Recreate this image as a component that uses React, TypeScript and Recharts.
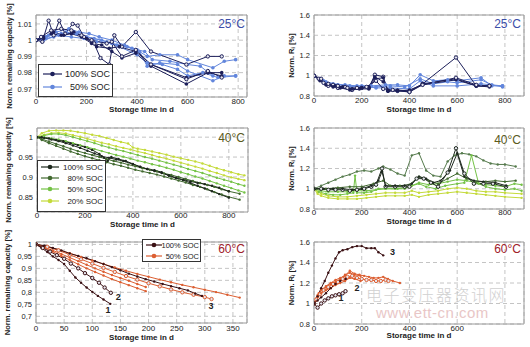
import React from "react";
import { LineChart, Line, XAxis, YAxis, CartesianGrid, ReferenceArea, ReferenceDot, Label } from "recharts";

type Pt = [number, number];

// ---- 25°C capacity ----
const cap25_100a: Pt[] = [[0, 1], [25, 0.999], [50, 1.012], [70, 1.003], [92, 1.012], [115, 1.004], [145, 1.01], [165, 1.009], [190, 1.002], [230, 0.998], [255, 0.989], [290, 0.985], [310, 1.003], [340, 0.996], [395, 1.005], [455, 0.993], [595, 0.985], [680, 0.99], [735, 0.99]];
const cap25_100b: Pt[] = [[0, 1], [30, 1.002], [60, 1.004], [100, 1.003], [140, 1.004], [180, 1.002], [220, 0.998], [260, 0.997], [300, 0.993], [340, 0.989], [395, 0.992], [455, 0.984], [595, 0.973], [680, 0.98], [735, 0.98]];
const cap25_100c: Pt[] = [[0, 1], [30, 1.001], [70, 1.005], [110, 1.003], [150, 1.005], [200, 1.001], [240, 0.996], [290, 0.995], [330, 0.996], [395, 0.993], [455, 0.985], [595, 0.977], [680, 0.98], [735, 0.978]];
const cap25_100d: Pt[] = [[0, 1], [20, 1.002], [60, 1.006], [100, 1.007], [140, 1.006], [180, 1.003], [220, 1.0], [280, 0.998], [300, 0.999], [340, 0.99], [395, 0.994], [455, 0.985], [595, 0.976], [680, 0.981], [735, 0.977]];
const cap25_50a: Pt[] = [[0, 1], [40, 1.002], [80, 1.005], [130, 1.007], [170, 1.005], [210, 1.004], [250, 1.002], [300, 1.0], [350, 0.997], [400, 0.994], [440, 0.99], [490, 0.991], [560, 0.991], [600, 0.988], [700, 0.983], [745, 0.987], [790, 0.988]];
const cap25_50b: Pt[] = [[0, 1], [40, 1.001], [90, 1.003], [140, 1.002], [190, 1.001], [240, 0.999], [300, 0.998], [360, 0.996], [410, 0.993], [440, 0.984], [490, 0.986], [560, 0.985], [600, 0.981], [700, 0.975], [745, 0.978], [790, 0.978]];
const cap25_50c: Pt[] = [[0, 1], [50, 1.003], [100, 1.004], [160, 1.004], [200, 1.002], [260, 1.0], [320, 0.997], [380, 0.995], [430, 0.993], [460, 0.988], [530, 0.987], [600, 0.985], [650, 0.984], [700, 0.978]];
const cap25_50d: Pt[] = [[0, 1], [30, 1.0], [70, 1.002], [120, 1.005], [180, 1.003], [230, 1.001], [280, 0.999], [330, 0.996], [400, 0.991], [440, 0.986], [500, 0.985], [560, 0.982], [600, 0.978], [660, 0.98], [720, 0.977], [790, 0.978]];

// ---- 25°C resistance ----
const ri25_100a: Pt[] = [[0, 1.0], [20, 0.97], [40, 0.93], [60, 0.9], [80, 0.91], [100, 0.88], [130, 0.89], [160, 0.86], [200, 0.88], [230, 0.88], [255, 1.01], [290, 0.99], [310, 0.85], [350, 0.85], [400, 0.84], [455, 0.92], [595, 1.18], [680, 0.9], [735, 0.9]];
const ri25_100b: Pt[] = [[0, 1.0], [30, 0.96], [60, 0.92], [90, 0.9], [120, 0.89], [160, 0.87], [200, 0.88], [230, 0.89], [255, 0.99], [290, 0.94], [310, 0.86], [350, 0.86], [400, 0.85], [455, 0.92], [595, 0.97], [680, 0.9], [735, 0.9]];
const ri25_100c: Pt[] = [[0, 1.0], [25, 0.95], [50, 0.91], [80, 0.89], [110, 0.88], [150, 0.86], [190, 0.87], [230, 0.87], [255, 0.97], [290, 0.98], [310, 0.85], [350, 0.85], [400, 0.86], [455, 0.91], [595, 0.96], [680, 0.9], [735, 0.89]];
const ri25_100d: Pt[] = [[0, 1.0], [30, 0.97], [60, 0.92], [100, 0.9], [140, 0.88], [180, 0.88], [220, 0.89], [260, 0.95], [290, 0.87], [330, 0.86], [400, 0.84], [455, 0.91], [595, 0.98], [680, 0.91], [735, 0.9]];
const ri25_50a: Pt[] = [[0, 1], [40, 0.95], [80, 0.92], [130, 0.91], [180, 0.9], [240, 0.9], [300, 0.91], [350, 0.91], [400, 0.9], [445, 1.01], [500, 0.95], [560, 0.96], [600, 0.95], [700, 0.98], [745, 0.9], [790, 0.9]];
const ri25_50b: Pt[] = [[0, 1], [50, 0.94], [100, 0.91], [150, 0.9], [200, 0.89], [260, 0.89], [320, 0.9], [380, 0.89], [445, 0.97], [500, 0.92], [560, 0.94], [600, 0.93], [700, 0.96], [745, 0.91], [790, 0.89]];
const ri25_50c: Pt[] = [[0, 1], [40, 0.93], [90, 0.9], [140, 0.89], [200, 0.9], [260, 0.88], [320, 0.88], [400, 0.87], [445, 0.95], [500, 0.9], [600, 0.9], [700, 0.92], [790, 0.9]];

// ---- 40°C capacity ----
const cap40_100a: Pt[] = [[0, 1], [20, 1.0], [50, 0.997], [80, 0.993], [110, 0.99], [140, 0.985], [170, 0.98], [200, 0.975], [230, 0.968], [260, 0.958], [280, 0.948], [295, 0.94], [310, 0.95], [340, 0.945], [370, 0.94], [400, 0.933], [430, 0.925], [460, 0.92], [490, 0.917], [520, 0.912], [550, 0.903], [580, 0.897], [610, 0.893], [640, 0.889], [670, 0.885], [700, 0.882], [730, 0.878], [760, 0.873], [800, 0.864]];
const cap40_100b: Pt[] = [[0, 1], [30, 0.998], [60, 0.994], [90, 0.99], [120, 0.985], [150, 0.979], [180, 0.973], [210, 0.966], [240, 0.959], [270, 0.952], [300, 0.948], [330, 0.944], [360, 0.94], [400, 0.932], [430, 0.926], [460, 0.92], [490, 0.915], [520, 0.91], [550, 0.904], [580, 0.898], [610, 0.892], [640, 0.885], [670, 0.878], [700, 0.871], [730, 0.864], [760, 0.857], [800, 0.848]];
const cap40_80a: Pt[] = [[0, 1], [20, 0.993], [50, 0.985], [80, 0.978], [110, 0.971], [140, 0.964], [170, 0.958], [200, 0.952], [230, 0.947], [260, 0.942], [290, 0.937], [320, 0.932], [350, 0.928], [380, 0.923], [410, 0.918], [440, 0.914], [470, 0.91], [500, 0.906], [530, 0.901], [560, 0.896], [590, 0.891], [620, 0.886], [650, 0.88], [680, 0.875], [710, 0.869], [740, 0.862], [770, 0.856], [800, 0.85], [845, 0.843]];
const cap40_80b: Pt[] = [[0, 1], [20, 0.995], [50, 0.989], [80, 0.983], [110, 0.977], [140, 0.971], [170, 0.965], [200, 0.96], [230, 0.955], [260, 0.95], [290, 0.945], [320, 0.94], [350, 0.936], [380, 0.931], [410, 0.927], [440, 0.922], [470, 0.918], [500, 0.914], [530, 0.909], [560, 0.905], [590, 0.9], [620, 0.895], [650, 0.89], [680, 0.885], [710, 0.88], [740, 0.875], [770, 0.869], [800, 0.864], [845, 0.858]];
const cap40_50a: Pt[] = [[0, 1], [30, 1.004], [60, 1.008], [90, 1.008], [120, 1.005], [150, 1.0], [180, 0.995], [210, 0.99], [240, 0.985], [270, 0.979], [300, 0.974], [330, 0.969], [360, 0.965], [390, 0.96], [420, 0.955], [450, 0.95], [480, 0.946], [510, 0.941], [540, 0.936], [570, 0.931], [600, 0.926], [630, 0.92], [660, 0.915], [690, 0.91], [720, 0.904], [750, 0.898], [780, 0.893], [810, 0.888], [840, 0.882], [865, 0.878]];
const cap40_50b: Pt[] = [[0, 1], [30, 0.999], [60, 0.997], [90, 0.994], [120, 0.99], [150, 0.985], [180, 0.98], [210, 0.975], [240, 0.97], [270, 0.965], [300, 0.96], [330, 0.955], [360, 0.951], [390, 0.946], [420, 0.941], [450, 0.937], [480, 0.932], [510, 0.928], [540, 0.923], [570, 0.918], [600, 0.912], [630, 0.907], [660, 0.901], [690, 0.896], [720, 0.89], [750, 0.884], [780, 0.878], [810, 0.872], [840, 0.866], [865, 0.861]];
const cap40_20a: Pt[] = [[0, 1.0], [20, 1.01], [50, 1.016], [80, 1.017], [110, 1.017], [140, 1.016], [170, 1.013], [200, 1.01], [230, 1.006], [260, 1.003], [290, 0.998], [320, 0.993], [350, 0.988], [380, 0.984], [400, 0.974], [420, 0.971], [450, 0.968], [480, 0.964], [510, 0.96], [540, 0.956], [570, 0.951], [600, 0.947], [630, 0.943], [660, 0.939], [690, 0.934], [720, 0.928], [750, 0.922], [780, 0.917], [810, 0.912], [840, 0.907], [865, 0.904]];
const cap40_20b: Pt[] = [[0, 1], [30, 1.006], [60, 1.01], [90, 1.011], [120, 1.009], [150, 1.005], [180, 1.001], [210, 0.996], [240, 0.991], [270, 0.986], [300, 0.982], [330, 0.977], [360, 0.973], [390, 0.969], [420, 0.964], [450, 0.96], [480, 0.955], [510, 0.95], [540, 0.946], [570, 0.941], [600, 0.936], [630, 0.931], [660, 0.926], [690, 0.921], [720, 0.915], [750, 0.91], [780, 0.904], [810, 0.899], [840, 0.895], [865, 0.892]];

// ---- 40°C resistance ----
const ri40_100a: Pt[] = [[0, 1], [30, 1.0], [60, 0.99], [90, 0.99], [120, 0.99], [150, 0.98], [180, 0.99], [210, 1.0], [240, 1.02], [260, 1.04], [285, 1.2], [300, 1.02], [340, 1.02], [380, 1.02], [400, 1.02], [430, 1.1], [460, 1.1], [490, 1.06], [520, 1.02], [560, 1.16], [595, 1.4], [630, 1.15], [670, 1.05], [710, 1.05], [750, 1.05], [805, 1.02]];
const ri40_100b: Pt[] = [[0, 1], [40, 1.0], [80, 1.0], [120, 1.0], [160, 0.99], [200, 1.0], [240, 1.03], [270, 1.08], [285, 1.17], [300, 1.03], [340, 1.03], [380, 1.03], [410, 1.05], [440, 1.12], [470, 1.1], [500, 1.06], [530, 1.08], [570, 1.18], [600, 1.35], [630, 1.12], [670, 1.08], [710, 1.07], [760, 1.06], [805, 1.03]];
const ri40_80a: Pt[] = [[0, 1], [30, 1.03], [60, 1.06], [90, 1.09], [120, 1.12], [150, 1.14], [180, 1.17], [210, 1.18], [240, 1.17], [270, 1.2], [290, 1.22], [320, 1.19], [350, 1.15], [380, 1.13], [410, 1.33], [440, 1.35], [470, 1.18], [500, 1.13], [530, 1.12], [560, 1.27], [590, 1.33], [620, 1.35], [650, 1.34], [680, 1.32], [710, 1.28], [740, 1.25], [770, 1.24], [800, 1.24], [845, 1.22]];
const ri40_80b: Pt[] = [[0, 1], [50, 1.0], [100, 1.01], [150, 1.02], [200, 1.02], [250, 1.05], [290, 1.08], [320, 1.03], [360, 1.03], [400, 1.04], [440, 1.12], [480, 1.08], [520, 1.05], [560, 1.1], [600, 1.15], [640, 1.1], [680, 1.07], [720, 1.07], [760, 1.08], [800, 1.07], [845, 1.08]];
const ri40_50a: Pt[] = [[0, 1], [20, 0.97], [50, 0.95], [80, 0.94], [110, 0.94], [140, 0.95], [165, 0.96], [172, 1.13], [180, 0.96], [210, 0.96], [240, 0.97], [270, 1.0], [300, 1.0], [340, 1.0], [380, 1.0], [410, 1.03], [440, 1.05], [470, 1.02], [510, 1.0], [550, 1.03], [600, 1.05], [630, 1.06], [660, 1.33], [690, 1.05], [720, 1.02], [760, 1.0], [800, 0.99], [840, 1.0], [870, 0.98]];
const ri40_50b: Pt[] = [[0, 1], [30, 0.98], [60, 0.97], [100, 0.97], [140, 0.97], [180, 0.98], [220, 0.98], [260, 0.99], [300, 1.0], [350, 1.0], [400, 1.02], [440, 1.06], [480, 1.04], [520, 1.05], [560, 1.07], [600, 1.09], [640, 1.08], [680, 1.06], [720, 1.04], [760, 1.03], [800, 1.02], [840, 1.05], [870, 1.04]];
const ri40_20a: Pt[] = [[0, 1], [15, 0.95], [30, 0.93], [60, 0.91], [100, 0.9], [140, 0.9], [180, 0.9], [220, 0.91], [260, 0.92], [300, 0.93], [340, 0.93], [380, 0.93], [410, 0.94], [440, 0.92], [480, 0.94], [520, 0.95], [560, 0.96], [600, 0.97], [640, 0.96], [680, 0.95], [720, 0.94], [760, 0.93], [800, 0.92], [870, 0.91]];
const ri40_20b: Pt[] = [[0, 1], [15, 0.97], [30, 0.95], [60, 0.93], [100, 0.92], [140, 0.92], [180, 0.93], [220, 0.94], [260, 0.95], [300, 0.96], [340, 0.96], [380, 0.96], [410, 0.98], [440, 0.96], [480, 0.97], [520, 0.98], [560, 1.0], [600, 1.01], [640, 1.0], [680, 0.98], [720, 0.97], [760, 0.97], [800, 0.96], [870, 0.95]];

// ---- 60°C capacity ----
const cap60_100_1: Pt[] = [[0, 1], [10, 0.985], [20, 0.968], [30, 0.95], [40, 0.935], [50, 0.918], [60, 0.89], [70, 0.862], [80, 0.84], [90, 0.82], [100, 0.802], [110, 0.785], [120, 0.77], [132, 0.752]];
const cap60_100_2: Pt[] = [[0, 1], [12, 0.985], [25, 0.97], [37, 0.955], [50, 0.94], [62, 0.92], [75, 0.9], [87, 0.88], [100, 0.86], [112, 0.84], [122, 0.82], [133, 0.798]];
const cap60_100_3: Pt[] = [[0, 1], [15, 0.995], [30, 0.985], [45, 0.975], [60, 0.962], [75, 0.952], [90, 0.942], [105, 0.93], [120, 0.918], [135, 0.905], [150, 0.892], [165, 0.878], [180, 0.866], [195, 0.855], [210, 0.845], [225, 0.835], [240, 0.826], [255, 0.817], [270, 0.808], [283, 0.795], [295, 0.785]];
const cap60_50a: Pt[] = [[0, 1], [20, 0.99], [40, 0.978], [60, 0.963], [80, 0.948], [100, 0.933], [120, 0.918], [140, 0.904], [160, 0.89], [180, 0.877], [200, 0.865], [220, 0.853], [240, 0.842], [260, 0.831], [280, 0.821], [300, 0.811], [320, 0.801], [340, 0.79], [362, 0.778]];
const cap60_50b: Pt[] = [[0, 1], [20, 0.99], [40, 0.975], [60, 0.957], [80, 0.938], [100, 0.92], [120, 0.902], [140, 0.885], [160, 0.868], [180, 0.853], [200, 0.838], [220, 0.825], [240, 0.812], [260, 0.8], [280, 0.79], [300, 0.78], [312, 0.772]];
const cap60_50c: Pt[] = [[0, 1], [15, 0.985], [30, 0.97], [45, 0.952], [60, 0.935], [75, 0.917], [90, 0.9], [105, 0.885], [120, 0.87], [135, 0.855], [150, 0.842], [165, 0.83], [180, 0.817], [195, 0.805]];
const cap60_50d: Pt[] = [[0, 1], [15, 0.988], [30, 0.975], [45, 0.96], [60, 0.945], [75, 0.93], [90, 0.915], [105, 0.9], [120, 0.886], [135, 0.872], [150, 0.86], [165, 0.848], [180, 0.835], [195, 0.822]];

// ---- 60°C resistance ----
const ri60_100_3: Pt[] = [[0, 1], [15, 1.07], [30, 1.15], [45, 1.22], [60, 1.3], [75, 1.37], [90, 1.44], [105, 1.5], [120, 1.52], [140, 1.53], [160, 1.55], [180, 1.56], [200, 1.56], [220, 1.54], [240, 1.54], [255, 1.54], [270, 1.5], [290, 1.47]];
const ri60_100_2: Pt[] = [[0, 1], [15, 1.03], [30, 1.06], [50, 1.1], [70, 1.15], [90, 1.19], [110, 1.22], [133, 1.24]];
const ri60_100_1: Pt[] = [[0, 1], [15, 0.96], [30, 1.0], [45, 1.03], [60, 1.05], [75, 1.07], [90, 1.08], [105, 1.09], [120, 1.1], [132, 1.12]];
const ri60_50a: Pt[] = [[0, 1], [10, 1.05], [20, 1.1], [35, 1.14], [50, 1.17], [70, 1.2], [90, 1.23], [110, 1.25], [130, 1.27], [150, 1.32], [170, 1.29], [190, 1.28], [210, 1.27], [230, 1.26], [250, 1.25], [270, 1.25], [290, 1.26], [310, 1.24], [330, 1.22], [360, 1.2]];
const ri60_50b: Pt[] = [[0, 1], [10, 1.04], [25, 1.09], [40, 1.13], [60, 1.16], [80, 1.19], [100, 1.21], [120, 1.24], [140, 1.26], [160, 1.27], [180, 1.25], [200, 1.24], [220, 1.23], [240, 1.23], [260, 1.22], [280, 1.22], [300, 1.23], [312, 1.22]];
const ri60_50c: Pt[] = [[0, 1], [15, 1.06], [30, 1.1], [50, 1.13], [70, 1.15], [90, 1.18], [110, 1.2], [130, 1.22], [150, 1.25], [170, 1.24], [195, 1.22]];
const ri60_50d: Pt[] = [[0, 1], [15, 1.08], [30, 1.13], [50, 1.16], [70, 1.19], [90, 1.21], [110, 1.24], [130, 1.28], [150, 1.3], [170, 1.28], [195, 1.27]];

const xTicks800 = [0, 200, 400, 600, 800];
const xTicks350 = [0, 50, 100, 150, 200, 250, 300, 350];
const yTicksCap25 = [0.97, 0.98, 0.99, 1, 1.01];
const yTicksCap40 = [0.85, 0.9, 0.95, 1];
const yTicksCap60 = [0.7, 0.75, 0.8, 0.85, 0.9, 0.95, 1];
const yTicksRi = [0.8, 1, 1.2, 1.4, 1.6];

const C25_100 = "#1c1f5a";
const C25_50 = "#6286dc";
const C40_100 = "#1d281d";
const C40_80 = "#41692f";
const C40_50 = "#74c246";
const C40_20 = "#c4da3a";
const C60_100 = "#3b1114";
const C60_50 = "#dc5f32";

const FONT = '"Liberation Sans", Arial, Helvetica, sans-serif';

type DotKind = "open" | "fill" | "small";
interface Series { pts: Pt[]; color: string; dot: DotKind }

function dotStyle(kind: DotKind, color: string) {
  if (kind === "open") return { r: 1.7, fill: "#e6e6ee", stroke: color, strokeWidth: 1 };
  if (kind === "fill") return { r: 1.8, fill: color, stroke: color, strokeWidth: 0 };
  return { r: 1.2, fill: color, stroke: color, strokeWidth: 0 };
}

interface PanelProps {
  ox: number;
  oy: number;
  plot: [number, number, number, number];
  xDomain: [number, number];
  xTicks: number[];
  yDomain: [number, number];
  yTicks: number[];
  yLabelX: number;
  ri?: boolean;
  series: Series[];
  comma?: boolean;
  hide800?: boolean;
  xLabelDy: number;
  xTickGap?: number;
  marks?: { x: number; y: number; t: string }[];
}

function Panel(p: PanelProps) {
  const [pl, pt, pr, pb] = p.plot;
  const yw = pl - p.ox;
  const xh = 22;
  const w = pr + 6 - p.ox;
  const h = pb + xh - p.oy;
  const fmtY = (v: number) => (p.comma ? String(v).replace(".", ",") : String(v));
  const fmtX = (v: number) => (p.hide800 && v === 800 ? "" : String(v));
  return (
    <div style={{ position: "absolute", left: p.ox, top: p.oy }}>
      <LineChart width={w} height={h} margin={{ top: pt - p.oy, right: 6, bottom: 0, left: 0 }}>
        <CartesianGrid stroke="#c4c4c4" strokeDasharray="4 3" />
        <XAxis
          dataKey="x"
          type="number"
          domain={p.xDomain}
          ticks={p.xTicks}
          allowDataOverflow
          height={xh}
          tickLine={false}
          axisLine={false}
          tickSize={p.xTickGap ?? 1}
          tickMargin={0}
          tickFormatter={fmtX}
          tick={{ fontSize: 8, fill: "#222", fontFamily: FONT }}
          interval={0}
        >
          <Label
            content={(lp: any) => {
              const vb = lp.viewBox;
              return (
                <text x={vb.x + vb.width / 2} y={vb.y + p.xLabelDy} textAnchor="middle" fontSize={8} fontWeight={700} fill="#222" fontFamily={FONT}>
                  Storage time in d
                </text>
              );
            }}
          />
        </XAxis>
        <YAxis
          type="number"
          domain={p.yDomain}
          ticks={p.yTicks}
          allowDataOverflow
          width={yw}
          tickLine={false}
          axisLine={false}
          tickSize={3}
          tickMargin={1}
          tickFormatter={fmtY}
          tick={{ fontSize: 7.5, fill: "#222", fontFamily: FONT }}
          interval={0}
        >
          <Label
            content={(lp: any) => {
              const vb = lp.viewBox;
              const cx = p.yLabelX;
              const cy = vb.y + vb.height / 2;
              return (
                <text x={cx} y={cy} transform={`rotate(-90 ${cx} ${cy})`} textAnchor="middle" dominantBaseline="central" fontSize={7.5} fontWeight={700} fill="#222" fontFamily={FONT}>
                  {p.ri ? (
                    <>
                      <tspan>Norm. R</tspan>
                      <tspan fontSize={5} dy={2}>i</tspan>
                      <tspan dy={-2}> [%]</tspan>
                    </>
                  ) : (
                    "Norm. remaining capacity [%]"
                  )}
                </text>
              );
            }}
          />
        </YAxis>
        <ReferenceArea x1={p.xDomain[0]} x2={p.xDomain[1]} y1={p.yDomain[0]} y2={p.yDomain[1]} fill="none" stroke="#9a9a9a" strokeWidth={1} ifOverflow="visible" />
        {p.series.map((s, i) => (
          <Line
            key={i}
            data={s.pts.map(([x, y]) => ({ x, y }))}
            dataKey="y"
            type="linear"
            stroke={s.color}
            strokeWidth={1}
            dot={dotStyle(s.dot, s.color)}
            activeDot={false}
            isAnimationActive={false}
          />
        ))}
        {(p.marks || []).map((m, i) => (
          <ReferenceDot
            key={"m" + i}
            x={m.x}
            y={m.y}
            r={0}
            fill="none"
            stroke="none"
            label={{ value: m.t, position: "center", fontSize: 9, fontWeight: 700, fill: "#222", fontFamily: FONT }}
          />
        ))}
      </LineChart>
    </div>
  );
}

interface LegendItem { label: string; color: string }

function LegendBox(props: { left: number; top: number; width: number; height: number; items: LegendItem[]; rows: number[]; lineX: [number, number]; textRight: number; fontSize: number }) {
  const { left, top, width, height, items, rows, lineX, textRight, fontSize } = props;
  return (
    <svg style={{ position: "absolute", left, top }} width={width} height={height}>
      <rect x={0.5} y={0.5} width={width - 1} height={height - 1} fill="#fff" stroke="#333" strokeWidth={1} />
      {items.map((it, i) => (
        <g key={it.label}>
          <line x1={lineX[0]} x2={lineX[1]} y1={rows[i]} y2={rows[i]} stroke={it.color} strokeWidth={1.2} />
          <circle cx={(lineX[0] + lineX[1]) / 2} cy={rows[i]} r={2.3} fill={it.color} />
          <text x={textRight} y={rows[i]} textAnchor="end" dominantBaseline="central" fontSize={fontSize} fill="#222" fontFamily={FONT}>
            {it.label}
          </text>
        </g>
      ))}
    </svg>
  );
}

function Title(props: { right: number; top: number; text: string; color: string }) {
  return (
    <div style={{ position: "absolute", left: props.right - 40, top: props.top, width: 40, textAlign: "right", fontFamily: FONT, fontSize: 12, lineHeight: "12px", color: props.color }}>
      {props.text}
    </div>
  );
}

export default function App() {
  return (
    <div style={{ position: "absolute", left: 0, top: 0, width: 530, height: 347, background: "#fff", overflow: "hidden" }}>
      <Panel
        ox={0}
        oy={0}
        plot={[36, 15, 247, 97]}
        xDomain={[0, 835]}
        xTicks={xTicks800}
        yDomain={[0.965, 1.0155]}
        yTicks={yTicksCap25}
        yLabelX={9}
        xLabelDy={15}
        series={[
          { pts: cap25_50a, color: C25_50, dot: "fill" },
          { pts: cap25_50b, color: C25_50, dot: "fill" },
          { pts: cap25_50c, color: C25_50, dot: "fill" },
          { pts: cap25_50d, color: C25_50, dot: "fill" },
          { pts: cap25_100a, color: C25_100, dot: "open" },
          { pts: cap25_100b, color: C25_100, dot: "fill" },
          { pts: cap25_100c, color: C25_100, dot: "fill" },
          { pts: cap25_100d, color: C25_100, dot: "open" },
        ]}
      />
      <Panel
        ox={265}
        oy={0}
        plot={[314, 15, 524, 96]}
        xDomain={[0, 880]}
        xTicks={xTicks800}
        yDomain={[0.8, 1.6]}
        yTicks={yTicksRi}
        yLabelX={26}
        ri
        xLabelDy={16}
        series={[
          { pts: ri25_50a, color: C25_50, dot: "fill" },
          { pts: ri25_50b, color: C25_50, dot: "fill" },
          { pts: ri25_50c, color: C25_50, dot: "fill" },
          { pts: ri25_100a, color: C25_100, dot: "open" },
          { pts: ri25_100b, color: C25_100, dot: "fill" },
          { pts: ri25_100c, color: C25_100, dot: "fill" },
          { pts: ri25_100d, color: C25_100, dot: "open" },
        ]}
      />
      <Panel
        ox={0}
        oy={112}
        plot={[37, 128, 248, 212]}
        xDomain={[0, 880]}
        xTicks={xTicks800}
        yDomain={[0.812, 1.023]}
        yTicks={yTicksCap40}
        yLabelX={8}
        xLabelDy={14.5}
        xTickGap={0}
        series={[
          { pts: cap40_20a, color: C40_20, dot: "small" },
          { pts: cap40_20b, color: C40_20, dot: "small" },
          { pts: cap40_50a, color: C40_50, dot: "small" },
          { pts: cap40_50b, color: C40_50, dot: "small" },
          { pts: cap40_80a, color: C40_80, dot: "small" },
          { pts: cap40_80b, color: C40_80, dot: "small" },
          { pts: cap40_100a, color: C40_100, dot: "small" },
          { pts: cap40_100b, color: C40_100, dot: "small" },
        ]}
      />
      <Panel
        ox={265}
        oy={112}
        plot={[314, 128, 524, 209]}
        xDomain={[0, 880]}
        xTicks={xTicks800}
        yDomain={[0.8, 1.6]}
        yTicks={yTicksRi}
        yLabelX={26}
        ri
        xLabelDy={14.5}
        xTickGap={0}
        series={[
          { pts: ri40_20a, color: C40_20, dot: "small" },
          { pts: ri40_20b, color: C40_20, dot: "small" },
          { pts: ri40_50a, color: C40_50, dot: "small" },
          { pts: ri40_50b, color: C40_50, dot: "small" },
          { pts: ri40_80a, color: "#557a4c", dot: "small" },
          { pts: ri40_80b, color: C40_80, dot: "small" },
          { pts: ri40_100a, color: C40_100, dot: "open" },
          { pts: ri40_100b, color: C40_100, dot: "small" },
        ]}
      />
      <Panel
        ox={0}
        oy={224}
        plot={[36, 242, 247, 323]}
        xDomain={[0, 375]}
        xTicks={xTicks350}
        yDomain={[0.672, 1.01]}
        yTicks={yTicksCap60}
        yLabelX={7}
        comma
        xLabelDy={17}
        xTickGap={2}
        series={[
          { pts: cap60_50a, color: C60_50, dot: "small" },
          { pts: cap60_50b, color: C60_50, dot: "open" },
          { pts: cap60_50c, color: C60_50, dot: "small" },
          { pts: cap60_50d, color: C60_50, dot: "small" },
          { pts: cap60_100_1, color: C60_100, dot: "small" },
          { pts: cap60_100_2, color: C60_100, dot: "open" },
          { pts: cap60_100_3, color: C60_100, dot: "small" },
        ]}
        marks={[
          { x: 128, y: 0.729, t: "1" },
          { x: 146, y: 0.781, t: "2" },
          { x: 311, y: 0.743, t: "3" },
        ]}
      />
      <Panel
        ox={265}
        oy={224}
        plot={[314, 242, 524, 324]}
        xDomain={[0, 880]}
        xTicks={xTicks800}
        yDomain={[0.8, 1.6]}
        yTicks={yTicksRi}
        yLabelX={26}
        ri
        hide800
        xLabelDy={14}
        series={[
          { pts: ri60_50a, color: C60_50, dot: "small" },
          { pts: ri60_50b, color: C60_50, dot: "open" },
          { pts: ri60_50c, color: C60_50, dot: "small" },
          { pts: ri60_50d, color: C60_50, dot: "small" },
          { pts: ri60_100_1, color: C60_100, dot: "open" },
          { pts: ri60_100_2, color: C60_100, dot: "small" },
          { pts: ri60_100_3, color: C60_100, dot: "small" },
        ]}
        marks={[
          { x: 113, y: 1.052, t: "1" },
          { x: 180, y: 1.153, t: "2" },
          { x: 329, y: 1.509, t: "3" },
        ]}
      />

      <LegendBox
        left={38}
        top={64}
        width={75}
        height={33}
        items={[{ label: "100% SOC", color: C25_100 }, { label: "50% SOC", color: C25_50 }]}
        rows={[10, 23]}
        lineX={[5, 24]}
        textRight={72}
        fontSize={9}
      />
      <LegendBox
        left={37}
        top={160}
        width={69}
        height={52}
        items={[
          { label: "100% SOC", color: C40_100 },
          { label: "80% SOC", color: C40_80 },
          { label: "50% SOC", color: C40_50 },
          { label: "20% SOC", color: C40_20 },
        ]}
        rows={[7, 18, 29, 41]}
        lineX={[4, 22]}
        textRight={66}
        fontSize={8}
      />
      <LegendBox
        left={142}
        top={239}
        width={59}
        height={23}
        items={[{ label: "100% SOC", color: C60_100 }, { label: "50% SOC", color: C60_50 }]}
        rows={[6, 17]}
        lineX={[4, 20]}
        textRight={57}
        fontSize={7.5}
      />

      <Title right={245} top={18} text="25°C" color="#3b4da8" />
      <Title right={521} top={18} text="25°C" color="#3b4da8" />
      <Title right={245} top={132} text="40°C" color="#5a5a1c" />
      <Title right={521} top={134} text="40°C" color="#5a5a1c" />
      <Title right={245} top={243} text="60°C" color="#a0202a" />
      <Title right={521} top={243} text="60°C" color="#a0202a" />

      <div style={{ position: "absolute", left: 366, top: 286, fontFamily: '"Noto Sans CJK SC", sans-serif', fontSize: 16, lineHeight: "17px", color: "#bdbdbd", opacity: 0.7, fontWeight: 300, letterSpacing: 1.5 }}>
        电子变压器资讯网
      </div>
      <div style={{ position: "absolute", left: 376, top: 306, fontFamily: FONT, fontSize: 15, lineHeight: "14px", color: "#e2b4b4", opacity: 0.75, letterSpacing: 0.5 }}>
        www.ett-cn.com
      </div>
    </div>
  );
}
